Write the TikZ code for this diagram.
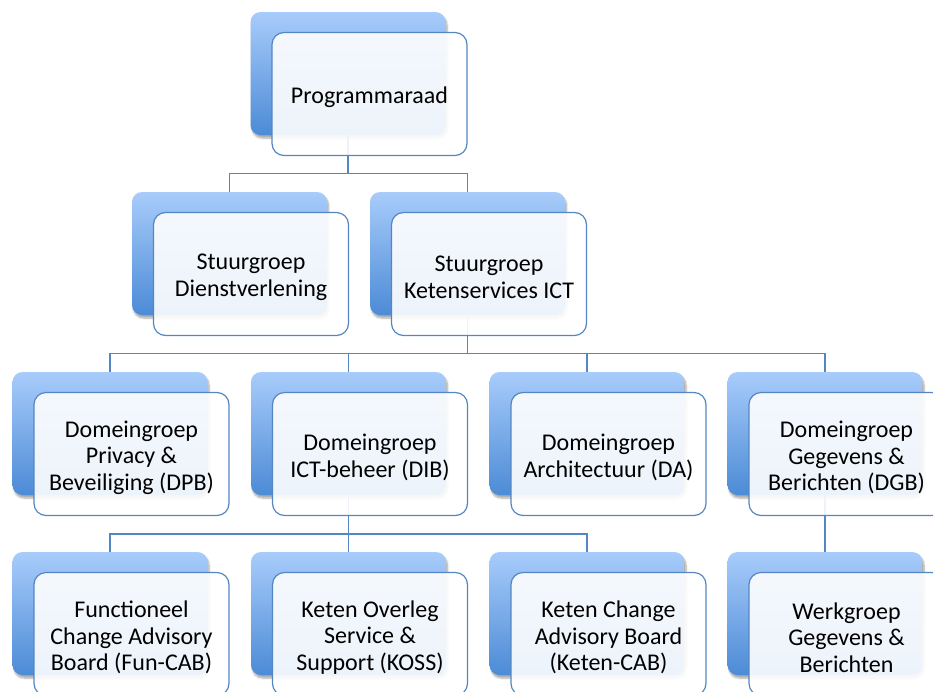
\documentclass[tikz,border=0pt]{standalone}
\usepackage{fontspec}
\setmainfont{Carlito}
\usetikzlibrary{shadows.blur}
\definecolor{bluetop}{RGB}{168,204,251}
\definecolor{bluebot}{RGB}{76,139,214}
\definecolor{edgeblue}{RGB}{84,134,196}
\tikzset{
  backbox/.style={rounded corners=10pt, minimum width=195pt, minimum height=123pt,
    inner sep=0pt, outer sep=0pt, top color=bluetop, bottom color=bluebot, draw=none,
    blur shadow={shadow xshift=1.5pt, shadow yshift=-3pt, shadow blur steps=6, shadow opacity=35}},
  frontbox/.style={rounded corners=12pt, minimum width=195pt, minimum height=123pt,
    inner sep=0pt, outer sep=0pt, draw=edgeblue, line width=1.2pt,
    fill=white, fill opacity=0.9, text opacity=1},
  boxtext/.style={align=center, yshift=-3.5pt, fill opacity=1, text opacity=1,
    font=\fontsize{24}{26.5}\selectfont},
  conn/.style={draw=edgeblue, line width=1.3pt}
}
\begin{document}
\begin{tikzpicture}[x=1pt,y=-1pt]
\useasboundingbox (0,0) rectangle (933,691);
\clip (0,0) rectangle (933,691);
% back boxes
\node[backbox] (pB) at (348,73.5) {};
\node[backbox] (sdB) at (229.5,253.5) {};
\node[backbox] (skB) at (467.5,253.5) {};
\node[backbox] (dpbB) at (110,433.5) {};
\node[backbox] (dibB) at (348.5,433.5) {};
\node[backbox] (daB) at (587,433.5) {};
\node[backbox] (dgbB) at (825,433.5) {};
\node[backbox] (funB) at (110,613.5) {};
\node[backbox] (kossB) at (348.5,613.5) {};
\node[backbox] (kcabB) at (587,613.5) {};
\node[backbox] (wgbB) at (825,613.5) {};
% junctions
\coordinate (j1) at (348,173.5);
\coordinate (j2) at (467.5,353.5);
\coordinate (j3) at (348.5,534);
% connectors
\draw[conn] (pB.south) -- (j1) -| (sdB.north);
\draw[conn] (j1) -| (skB.north);
\draw[conn] (skB.south) -- (j2) -| (dpbB.north);
\draw[conn] (j2) -| (dibB.north);
\draw[conn] (j2) -| (daB.north);
\draw[conn] (j2) -| (dgbB.north);
\draw[conn] (dibB.south) -- (j3) -| (funB.north);
\draw[conn] (j3) -| (kossB.north);
\draw[conn] (j3) -| (kcabB.north);
\draw[conn] (dgbB.south) -- (wgbB.north);
% front boxes
\node[frontbox, label={[boxtext]center:Programmaraad}] (p) at (369.5,94) {};
\node[frontbox, label={[boxtext]center:{Stuurgroep\\Dienstverlening}}] (sd) at (251,274) {};
\node[frontbox, label={[boxtext]center:{Stuurgroep\\Ketenservices ICT}}] (sk) at (489,274) {};
\node[frontbox, label={[boxtext]center:{Domeingroep\\Privacy \&\\Beveiliging (DPB)}}] (dpb) at (131.5,454) {};
\node[frontbox, label={[boxtext]center:{Domeingroep\\ICT-beheer (DIB)}}] (dib) at (370,454) {};
\node[frontbox, label={[boxtext]center:{Domeingroep\\Architectuur (DA)}}] (da) at (608.5,454) {};
\node[frontbox, label={[boxtext]center:{Domeingroep\\Gegevens \&\\Berichten (DGB)}}] (dgb) at (846.5,454) {};
\node[frontbox, label={[boxtext]center:{Functioneel\\Change Advisory\\Board (Fun-CAB)}}] (fun) at (131.5,634) {};
\node[frontbox, label={[boxtext]center:{Keten Overleg\\Service \&\\Support (KOSS)}}] (koss) at (370,634) {};
\node[frontbox, label={[boxtext]center:{Keten Change\\Advisory Board\\(Keten-CAB)}}] (kcab) at (608.5,634) {};
\node[frontbox, label={[boxtext]center:{Werkgroep\\Gegevens \&\\Berichten}}] (wgb) at (846.5,634) {};
\end{tikzpicture}
\end{document}
